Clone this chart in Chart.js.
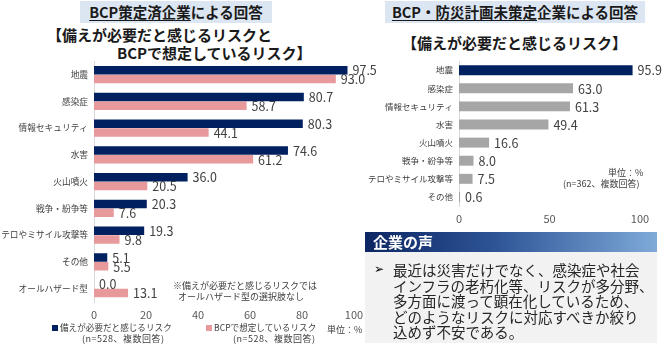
<!DOCTYPE html>
<html lang="ja">
<head>
<meta charset="utf-8">
<script src="https://cdn.jsdelivr.net/npm/chart.js@4/dist/chart.umd.min.js"></script>
<style>
  body { margin: 0; background: #fff; font-family: "Noto Sans CJK JP", sans-serif; color: #262626; }
  #page { position: relative; width: 670px; height: 349px; overflow: hidden; }
  .abs { position: absolute; white-space: nowrap; }
  .titlebox { background: #dce6f2; font-weight: bold; font-size: 14.5px; line-height: 22px; text-align: center; color: #1a1a1a; }
  .titlebox u { text-underline-offset: 2px; }
  .sub { font-weight: bold; font-size: 15px; line-height: 18px; color: #1a1a1a; }
  .small { font-size: 9px; line-height: 11px; color: #404040; }
  .sq { display: inline-block; width: 6px; height: 6px; margin-right: 2px; vertical-align: 0; }
  #voiceHead { left: 365px; top: 232px; width: 292px; height: 20px; background: linear-gradient(to right, #0c2663, #2f5597 45%, #7eaad8); color: #fff; font-weight: bold; font-size: 15px; line-height: 20px; padding-left: 8px; box-sizing: border-box; }
  #voiceBody { left: 365px; top: 252px; width: 292px; height: 91px; background: #f2f2f2; }
  #voiceText { left: 393px; top: 262px; font-size: 14.5px; line-height: 15.6px; color: #262626; }
  #bullet { left: 374px; top: 262px; font-size: 12px; line-height: 15.6px; font-family: "DejaVu Sans", sans-serif; color: #000; }
</style>
</head>
<body>
<div id="page">
  <div class="abs titlebox" style="left:80px; top:1px; width:192px;"><u>BCP策定済企業</u>による回答</div>
  <div class="abs sub" style="left:47px; top:26px;">【備えが必要だと感じるリスクと</div>
  <div class="abs sub" style="left:117px; top:44px;">BCPで想定しているリスク】</div>

  <div class="abs titlebox" style="left:385px; top:1px; width:260px;"><u>BCP・防災計画未策定</u>企業による回答</div>
  <div class="abs sub" style="left:402px; top:34px;">【備えが必要だと感じるリスク】</div>

  <canvas id="leftChart" class="abs" style="left:0; top:50px;"></canvas>
  <canvas id="rightChart" class="abs" style="left:340px; top:50px;"></canvas>

  <div class="abs small" style="left:173px; top:280px;">※備えが必要だと感じるリスクでは</div>
  <div class="abs small" style="left:178px; top:291px;">オールハザード型の選択肢なし</div>

  <div class="abs small" style="left:52px; top:322px; font-size:8.6px;"><span class="sq" style="background:#002060"></span>備えが必要だと感じるリスク</div>
  <div class="abs small" style="left:82px; top:333px; letter-spacing:0.5px;">(n=528、複数回答)</div>
  <div class="abs small" style="left:206px; top:322px; font-size:8.6px;"><span class="sq" style="background:#e8999b"></span>BCPで想定しているリスク</div>
  <div class="abs small" style="left:233px; top:333px; letter-spacing:0.5px;">(n=528、複数回答)</div>
  <div class="abs small" style="left:327px; top:324px;">単位：%</div>

  <div class="abs small" style="left:608px; top:167px;">単位：%</div>
  <div class="abs small" style="left:563px; top:178px;">(n=362、複数回答)</div>

  <div id="voiceBody" class="abs"></div>
  <div id="voiceHead" class="abs">企業の声</div>
  <div id="bullet" class="abs">➢</div>
  <div id="voiceText" class="abs">最近は災害だけでなく、感染症や社会<br>インフラの老朽化等、リスクが多分野、<br>多方面に渡って顕在化しているため、<br>どのようなリスクに対応すべきか絞り<br>込めず不安である。</div>
</div>

<script>
const leftCategories = ['地震', '感染症', '情報セキュリティ', '水害', '火山噴火', '戦争・紛争等', 'テロやミサイル攻撃等', 'その他', 'オールハザード型'];
const needRisk = [97.5, 80.7, 80.3, 74.6, 36.0, 20.3, 19.3, 5.1, 0.0];
const bcpRisk = [93.0, 58.7, 44.1, 61.2, 20.5, 7.6, 9.8, 5.5, 13.1];
const leftTicks = [0, 20, 40, 60, 80, 100];

const rightCategories = ['地震', '感染症', '情報セキュリティ', '水害', '火山噴火', '戦争・紛争等', 'テロやミサイル攻撃等', 'その他'];
const noPlanRisk = [95.9, 63.0, 61.3, 49.4, 16.6, 8.0, 7.5, 0.6];
const rightTicks = [0, 50, 100];

const NAVY = '#002060';
const PINK = '#e8999b';
const GRAY = '#a6a6a6';
const FONT = '"Noto Sans CJK JP", sans-serif';

// value labels to the right of each bar
const valueLabels = {
    id: 'valueLabels',
    afterDatasetsDraw(chart) {
        const ctx = chart.ctx;
        ctx.save();
        ctx.font = '12.5px ' + FONT;
        ctx.fillStyle = '#404040';
        ctx.textBaseline = 'middle';
        chart.data.datasets.forEach((ds, i) => {
            chart.getDatasetMeta(i).data.forEach((bar, j) => {
                ctx.fillText(ds.data[j].toFixed(1), bar.x + 5, bar.y + 0.5);
            });
        });
        ctx.restore();
    }
};

function makeOptions(ticks, yWidth, yFont, padding) {
    return {
        responsive: false,
        animation: false,
        indexAxis: 'y',
        layout: { padding: padding },
        plugins: { legend: { display: false }, tooltip: { enabled: false } },
        scales: {
            x: {
                min: 0,
                max: ticks[ticks.length - 1],
                afterBuildTicks: (scale) => { scale.ticks = ticks.map(v => ({ value: v })); },
                afterFit: (scale) => { scale.height = 22; },
                grid: { display: false, drawTicks: false },
                border: { display: false },
                ticks: { color: '#595959', font: { family: FONT, size: 11 }, padding: 6, maxRotation: 0 }
            },
            y: {
                afterFit: (scale) => { scale.width = yWidth; },
                grid: { display: false, drawTicks: false },
                border: { display: true, color: '#d9d9d9' },
                ticks: { color: '#404040', font: { family: FONT, size: yFont }, padding: 6, autoSkip: false }
            }
        }
    };
}

const leftCanvas = document.getElementById('leftChart');
leftCanvas.width = 380;
leftCanvas.height = 274;
new Chart(leftCanvas, {
    type: 'bar',
    data: {
        labels: leftCategories,
        datasets: [
            { label: '備えが必要だと感じるリスク', data: needRisk, backgroundColor: NAVY, categoryPercentage: 0.66, barPercentage: 0.97 },
            { label: 'BCPで想定しているリスク', data: bcpRisk, backgroundColor: PINK, categoryPercentage: 0.66, barPercentage: 0.97 }
        ]
    },
    options: makeOptions(leftTicks, 94, 8.7, { top: 10.6, right: 26, left: 0, bottom: 0 }),
    plugins: [valueLabels]
});

const rightCanvas = document.getElementById('rightChart');
rightCanvas.width = 330;
rightCanvas.height = 178;
new Chart(rightCanvas, {
    type: 'bar',
    data: {
        labels: rightCategories,
        datasets: [
            { label: '備えが必要だと感じるリスク', data: noPlanRisk,
              backgroundColor: noPlanRisk.map((v, i) => i === 0 ? NAVY : GRAY),
              categoryPercentage: 0.55, barPercentage: 1 }
        ]
    },
    options: makeOptions(rightTicks, 119, 8.5, { top: 7.8, right: 30, left: 0, bottom: 0 }),
    plugins: [valueLabels]
});
</script>
</body>
</html>
